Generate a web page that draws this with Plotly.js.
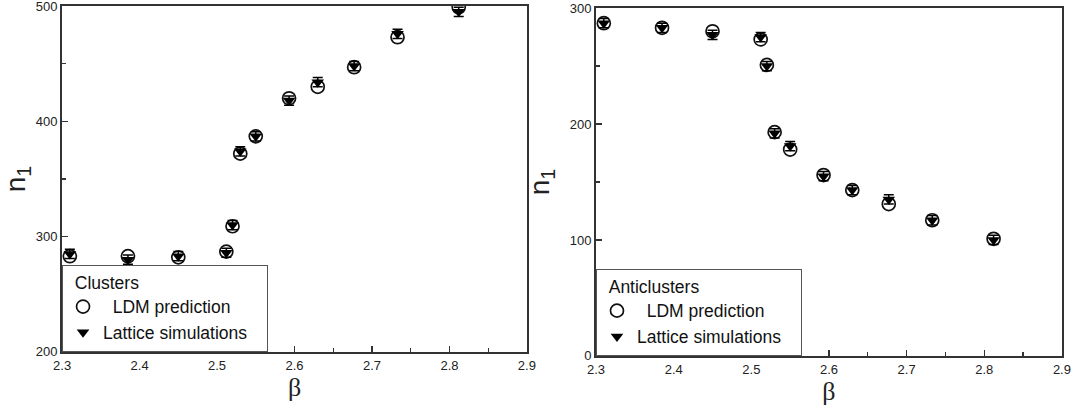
<!DOCTYPE html>
<html>
<head>
<meta charset="utf-8">
<script src="https://cdn.plot.ly/plotly-3.0.1.min.js"></script>
<style>html,body{margin:0;padding:0;background:#fff;}#chart{width:1075px;height:410px;}</style>
</head>
<body>
<div id="chart"></div>
<script>
// Data
const beta = [2.31, 2.385, 2.45, 2.512, 2.52, 2.53, 2.55, 2.593, 2.63, 2.677, 2.733, 2.812];
const clustersLDM = [283, 283, 282, 287, 309, 372, 387, 420, 430, 447, 473, 499];
const clustersLattice = [285, 280, 283, 286, 310, 374, 387, 418, 434, 448, 476, 495];
const clustersErr = [4, 4, 4, 4, 4, 4, 4, 4, 4, 4, 4, 4];
const antiLDM = [287, 283, 280, 273, 251, 193, 178, 156, 143, 131, 117, 101];
const antiLattice = [287, 283, 277, 275, 250, 192, 181, 155, 143, 135, 117, 100];
const antiErr = [4, 4, 4, 4, 4, 4, 4, 4, 4, 4, 4, 4];
const xTicks = [2.3, 2.4, 2.5, 2.6, 2.7, 2.8, 2.9];
const xTickText = ['2.3', '2.4', '2.5', '2.6', '2.7', '2.8', '2.9'];
const leftTicks = [200, 300, 400, 500];
const rightTicks = [0, 100, 200, 300];

const circleMarker = {symbol: 'circle-open', size: 13, color: '#111', line: {width: 1.7, color: '#111'}};
const triMarker = {symbol: 'triangle-down', size: 11, color: '#000'};
const errStyle = (arr) => ({type: 'data', array: arr, visible: true, color: '#000', thickness: 1.5, width: 5});

const traces = [
  {x: beta, y: clustersLDM, type: 'scatter', mode: 'markers', name: '\u00a0\u00a0LDM prediction',
   marker: circleMarker, xaxis: 'x', yaxis: 'y', legend: 'legend'},
  {x: beta, y: clustersLattice, type: 'scatter', mode: 'markers', name: 'Lattice simulations\u00a0\u00a0\u00a0',
   marker: triMarker, error_y: errStyle(clustersErr), xaxis: 'x', yaxis: 'y', legend: 'legend'},
  {x: beta, y: antiLDM, type: 'scatter', mode: 'markers', name: '\u00a0\u00a0LDM prediction',
   marker: circleMarker, xaxis: 'x2', yaxis: 'y2', legend: 'legend2'},
  {x: beta, y: antiLattice, type: 'scatter', mode: 'markers', name: 'Lattice simulations\u00a0\u00a0\u00a0',
   marker: triMarker, error_y: errStyle(antiErr), xaxis: 'x2', yaxis: 'y2', legend: 'legend2'}
];

const axisCommon = {
  showline: true, linecolor: '#333', linewidth: 2, mirror: true,
  showgrid: false, zeroline: false,
  ticks: 'inside', ticklen: 6, tickwidth: 1.5, tickcolor: '#333',
  ticklabeloverflow: 'allow',
  tickfont: {family: 'Arial, Liberation Sans, sans-serif', size: 13, color: '#222'}
};
const xAxisBase = Object.assign({}, axisCommon, {
  range: [2.2999, 2.9001], tickvals: xTicks, ticktext: xTickText,
  minor: {dtick: 0.05, ticks: 'inside', ticklen: 4, tickwidth: 1.2, tickcolor: '#333'},
  title: {text: 'β', font: {family: 'Liberation Serif, Times New Roman, serif', size: 26, color: '#222'}, standoff: 2}
});
const yTitle = {text: 'n<sub>1</sub>', font: {family: 'Arial, Liberation Sans, sans-serif', size: 28, color: '#222'}, standoff: 12};

const legFont = {family: 'Arial, Liberation Sans, sans-serif', size: 17.5, color: '#111'};
const legendBase = {
  xanchor: 'left', yanchor: 'bottom',
  bgcolor: '#fff', bordercolor: '#555', borderwidth: 1,
  font: legFont, tracegroupgap: 0, itemwidth: 30
};

const layout = {
  width: 1075, height: 410,
  margin: {l: 0, r: 0, t: 0, b: 0},
  paper_bgcolor: '#fff', plot_bgcolor: '#fff',
  showlegend: true,
  xaxis: Object.assign({}, xAxisBase, {domain: [0.0577, 0.4902], anchor: 'y'}),
  yaxis: Object.assign({}, axisCommon, {domain: [0.1415, 0.9854], range: [199.9, 500.1], tickvals: leftTicks,
    minor: {dtick: 50, ticks: 'inside', ticklen: 4, tickwidth: 1.2, tickcolor: '#333'}, title: yTitle, anchor: 'x'}),
  xaxis2: Object.assign({}, xAxisBase, {domain: [0.5544, 0.9879], anchor: 'y2'}),
  yaxis2: Object.assign({}, axisCommon, {domain: [0.1317, 0.9805], range: [-0.1, 300.1], tickvals: rightTicks,
    minor: {dtick: 50, ticks: 'inside', ticklen: 4, tickwidth: 1.2, tickcolor: '#333'}, title: yTitle, anchor: 'x2'}),
  legend: Object.assign({}, legendBase, {xref: 'paper', yref: 'paper', x: 0.0577, y: 0.1415,
    title: {text: '\u00a0\u00a0Clusters', font: legFont}}),
  legend2: Object.assign({}, legendBase, {xref: 'paper', yref: 'paper', x: 0.5544, y: 0.1317,
    title: {text: '\u00a0\u00a0Anticlusters', font: legFont}})
};

Plotly.newPlot('chart', traces, layout, {displayModeBar: false, staticPlot: true});
</script>
</body>
</html>
